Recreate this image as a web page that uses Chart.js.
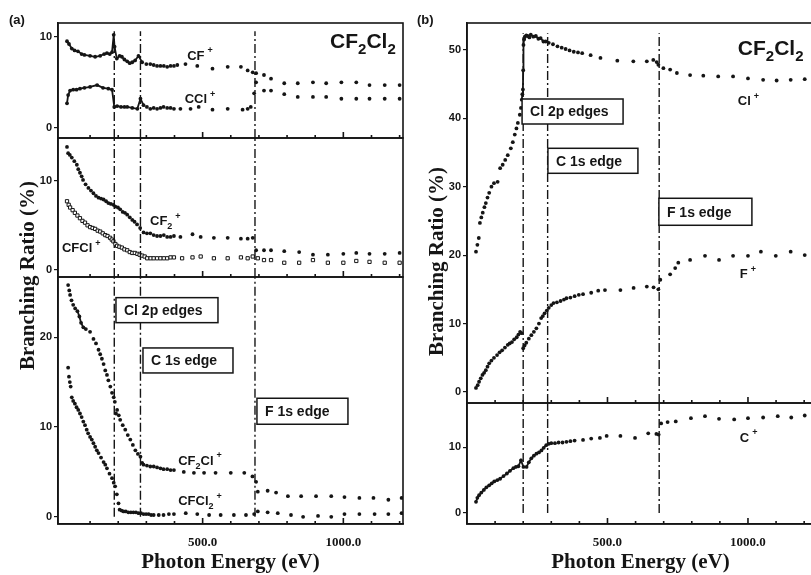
<!DOCTYPE html>
<html>
<head>
<meta charset="utf-8">
<script src="https://cdn.jsdelivr.net/npm/chart.js@4.4.0/dist/chart.umd.min.js"></script>
<style>
  html, body { margin: 0; padding: 0; background: #fff; width: 811px; height: 575px; overflow: hidden; }
  #wrapA { position: absolute; left: 0; top: 0; width: 410px; height: 575px; }
  #wrapB { position: absolute; left: 400px; top: 0; width: 430px; height: 575px; }
</style>
</head>
<body>
<div id="wrapA"><canvas id="chartA" width="410" height="575"></canvas></div>
<div id="wrapB"><canvas id="chartB" width="430" height="575"></canvas></div>
<script>
// ---- panel (a): photon energy (eV) and branching ratio (%) per ion ----
const cfPlusE = [18, 25, 35, 45, 57, 70, 80, 100, 118, 136, 150, 160, 170, 178, 184, 187, 195, 205, 213, 222, 232, 241, 250, 260, 272, 285, 300, 314, 326, 338, 350, 362, 374, 386, 398, 410, 439, 481, 535, 589, 636, 660, 678, 690, 718, 743, 790, 838, 892, 939, 993, 1046, 1093, 1147, 1200];
const cfPlusV = [9.5, 9.2, 8.7, 8.5, 8.4, 8.1, 8.0, 7.9, 7.8, 7.9, 8.1, 8.2, 8.1, 8.3, 10.2, 8.9, 7.6, 7.9, 7.8, 7.5, 7.3, 7.1, 7.2, 7.4, 7.9, 7.2, 7.0, 7.0, 6.9, 6.8, 6.8, 6.8, 6.7, 6.8, 6.8, 6.9, 7.0, 6.8, 6.5, 6.7, 6.7, 6.3, 6.1, 6.0, 5.8, 5.4, 4.9, 4.9, 5.0, 4.9, 5.0, 5.0, 4.7, 4.7, 4.7];

const cclPlusE = [18, 22, 29, 40, 52, 64, 80, 100, 125, 146, 165, 178, 186, 196, 210, 222, 232, 250, 268, 279, 290, 302, 314, 326, 338, 350, 361, 374, 386, 398, 421, 457, 486, 535, 589, 642, 660, 671, 683, 690, 718, 743, 790, 838, 892, 939, 993, 1046, 1093, 1147, 1200];
const cclPlusV = [2.7, 3.6, 4.1, 4.2, 4.2, 4.3, 4.4, 4.5, 4.7, 4.4, 4.3, 4.2, 2.3, 2.4, 2.3, 2.3, 2.3, 2.2, 2.1, 3.2, 2.5, 2.3, 2.1, 2.2, 2.1, 2.2, 2.3, 2.2, 2.2, 2.1, 2.1, 2.1, 2.3, 2.0, 2.1, 2.0, 2.1, 2.3, 3.8, 5.0, 4.1, 4.1, 3.7, 3.4, 3.4, 3.4, 3.2, 3.2, 3.2, 3.2, 3.2];

const cf2PlusE = [18, 22, 28, 35, 44, 53, 58, 64, 70, 75, 84, 94, 103, 112, 121, 130, 139, 148, 157, 165, 174, 183, 190, 199, 207, 216, 224, 232, 241, 250, 258, 267, 278, 290, 302, 314, 326, 338, 350, 362, 374, 386, 398, 421, 464, 493, 540, 589, 636, 660, 678, 690, 718, 743, 790, 843, 892, 945, 1000, 1046, 1093, 1147, 1200];
const cf2PlusV = [13.8, 13.1, 12.9, 12.6, 12.2, 11.8, 11.3, 10.9, 10.5, 10.1, 9.6, 9.2, 8.9, 8.6, 8.3, 8.1, 8.0, 7.9, 7.7, 7.5, 7.4, 7.3, 7.1, 7.0, 6.8, 6.5, 6.4, 6.2, 5.9, 5.6, 5.4, 5.1, 4.7, 4.2, 4.1, 4.1, 3.9, 3.8, 3.8, 3.9, 3.7, 3.7, 3.8, 3.7, 4.0, 3.7, 3.6, 3.6, 3.5, 3.5, 3.6, 2.2, 2.2, 2.2, 2.1, 2.0, 1.7, 1.7, 1.8, 1.9, 1.8, 1.8, 1.9];

const cfclPlusE = [18, 24, 29, 38, 46, 55, 64, 73, 82, 91, 100, 109, 118, 127, 136, 145, 154, 162, 171, 177, 183, 190, 196, 204, 213, 222, 232, 241, 250, 259, 268, 276, 285, 294, 303, 315, 326, 338, 350, 362, 374, 386, 398, 427, 464, 493, 540, 589, 636, 660, 678, 696, 718, 743, 790, 843, 892, 945, 1000, 1046, 1093, 1147, 1200];
const cfclPlusV = [7.7, 7.3, 7.0, 6.7, 6.4, 6.1, 5.8, 5.5, 5.3, 5.0, 4.8, 4.7, 4.6, 4.4, 4.3, 4.1, 3.9, 3.8, 3.6, 3.4, 3.2, 2.9, 2.7, 2.6, 2.5, 2.3, 2.2, 2.0, 1.9, 1.9, 1.8, 1.7, 1.6, 1.5, 1.3, 1.3, 1.3, 1.3, 1.3, 1.3, 1.3, 1.4, 1.4, 1.3, 1.4, 1.5, 1.3, 1.3, 1.4, 1.3, 1.5, 1.3, 1.1, 1.1, 0.8, 0.8, 1.1, 0.8, 0.8, 1.0, 0.9, 0.8, 0.8];

const cf2clPlusE = [22, 26, 29, 34, 40, 47, 55, 62, 68, 76, 85, 100, 112, 121, 130, 136, 142, 148, 154, 160, 165, 172, 178, 184, 188, 192, 196, 202, 207, 216, 225, 234, 243, 252, 261, 270, 279, 285, 290, 302, 314, 326, 338, 350, 361, 374, 386, 398, 433, 469, 505, 546, 600, 648, 677, 690, 696, 731, 761, 803, 850, 903, 957, 1004, 1057, 1107, 1160, 1207];
const cf2clPlusV = [25.8, 25.2, 24.7, 24.1, 23.6, 23.2, 22.9, 22.3, 21.6, 21.1, 20.9, 20.6, 19.8, 19.3, 18.6, 18.1, 17.6, 17.0, 16.3, 15.8, 15.2, 14.5, 13.8, 13.3, 12.8, 11.5, 11.9, 11.3, 10.8, 10.2, 9.7, 9.1, 8.6, 8.0, 7.4, 7.0, 6.7, 6.0, 5.8, 5.7, 5.6, 5.6, 5.5, 5.4, 5.3, 5.3, 5.2, 5.2, 5.0, 4.9, 4.9, 4.9, 4.9, 4.9, 4.5, 3.9, 2.8, 2.9, 2.7, 2.3, 2.3, 2.3, 2.3, 2.2, 2.1, 2.1, 1.9, 2.1];

const cfcl2PlusE = [22, 25, 28, 31, 35, 40, 46, 52, 58, 64, 70, 76, 82, 88, 93, 100, 106, 112, 118, 124, 130, 139, 148, 154, 160, 169, 178, 184, 189, 195, 201, 205, 212, 219, 227, 236, 245, 254, 263, 272, 281, 290, 299, 308, 317, 326, 344, 361, 380, 398, 440, 481, 523, 564, 611, 654, 683, 696, 731, 767, 814, 857, 910, 957, 1004, 1057, 1111, 1160, 1207];
const cfcl2PlusV = [16.6, 15.6, 15.0, 14.5, 13.3, 12.9, 12.6, 12.2, 11.9, 11.5, 11.1, 10.6, 10.2, 9.7, 9.3, 8.9, 8.6, 8.2, 7.8, 7.4, 7.1, 6.6, 6.1, 5.8, 5.4, 4.8, 4.3, 3.8, 3.4, 2.5, 1.5, 0.8, 0.7, 0.6, 0.6, 0.5, 0.5, 0.5, 0.5, 0.4, 0.4, 0.3, 0.3, 0.3, 0.2, 0.2, 0.2, 0.2, 0.3, 0.3, 0.4, 0.3, 0.2, 0.2, 0.2, 0.2, 0.3, 0.6, 0.5, 0.4, 0.2, 0.0, 0.1, 0.0, 0.3, 0.3, 0.3, 0.3, 0.4];

// ---- panel (b) ----
const clPlusE = [32, 37, 42, 46, 51, 56, 62, 67, 73, 79, 87, 96, 109, 118, 127, 136, 145, 156, 163, 170, 176, 181, 188, 192, 195, 197, 199, 200, 201, 203, 206, 211, 216, 222, 227, 236, 245, 254, 262, 272, 280, 291, 306, 322, 337, 351, 365, 380, 395, 410, 440, 475, 535, 592, 640, 663, 675, 681, 699, 723, 747, 794, 841, 894, 947, 1000, 1054, 1102, 1152, 1202];
const clPlusV = [20.5, 21.5, 22.5, 24.7, 25.5, 26.2, 27.0, 27.6, 28.4, 29.1, 30.0, 30.5, 30.7, 32.7, 33.2, 33.9, 34.6, 35.6, 36.5, 37.6, 38.5, 39.3, 40.5, 41.5, 42.7, 43.5, 44.2, 47.0, 50.7, 51.5, 51.9, 52.1, 52.0, 51.8, 52.2, 51.9, 52.0, 51.6, 51.7, 51.2, 51.2, 51.0, 50.8, 50.5, 50.3, 50.1, 49.9, 49.7, 49.6, 49.5, 49.2, 48.8, 48.4, 48.3, 48.3, 48.5, 48.2, 47.8, 47.3, 47.1, 46.6, 46.3, 46.2, 46.1, 46.1, 45.8, 45.6, 45.5, 45.6, 45.7];

const fPlusE = [32, 38, 43, 49, 55, 61, 67, 73, 79, 87, 96, 107, 116, 125, 135, 145, 152, 160, 168, 177, 183, 189, 194, 200, 205, 211, 220, 229, 238, 247, 256, 264, 270, 276, 284, 291, 300, 308, 320, 333, 345, 354, 368, 383, 398, 413, 442, 467, 491, 546, 593, 640, 664, 681, 688, 723, 741, 752, 794, 847, 897, 947, 1000, 1046, 1099, 1152, 1202];
const fPlusV = [0.6, 1.0, 1.5, 2.0, 2.5, 2.8, 3.2, 3.7, 4.2, 4.6, 5.0, 5.4, 5.8, 6.1, 6.5, 6.9, 7.1, 7.3, 7.7, 8.0, 8.4, 8.8, 8.6, 6.4, 6.8, 7.2, 7.8, 8.3, 8.8, 9.3, 10.0, 10.8, 11.1, 11.5, 11.9, 12.3, 12.7, 13.0, 13.1, 13.3, 13.5, 13.7, 13.8, 14.0, 14.2, 14.3, 14.5, 14.8, 14.9, 14.9, 15.2, 15.4, 15.3, 15.0, 16.4, 17.2, 18.1, 18.9, 19.3, 19.9, 19.3, 19.9, 19.9, 20.5, 19.9, 20.5, 20.0];

const cPlusE = [32, 37, 43, 51, 60, 69, 79, 88, 97, 108, 118, 130, 142, 153, 165, 174, 183, 192, 201, 212, 220, 229, 238, 247, 256, 265, 273, 282, 291, 300, 313, 326, 340, 354, 368, 383, 413, 442, 473, 497, 546, 598, 645, 674, 682, 691, 714, 743, 797, 847, 897, 951, 1000, 1054, 1106, 1154, 1202];
const cPlusV = [1.7, 2.3, 2.7, 3.1, 3.5, 3.9, 4.2, 4.5, 4.8, 5.0, 5.2, 5.6, 6.0, 6.4, 6.8, 7.0, 7.1, 8.0, 7.0, 7.0, 7.7, 8.3, 8.7, 9.0, 9.2, 9.5, 9.9, 10.3, 10.5, 10.6, 10.6, 10.7, 10.7, 10.8, 10.9, 11.0, 11.1, 11.3, 11.4, 11.7, 11.7, 11.4, 12.1, 12.0, 11.9, 13.6, 13.8, 13.9, 14.4, 14.7, 14.3, 14.2, 14.4, 14.5, 14.7, 14.5, 14.8];

// absorption edges (eV) as drawn in each panel
const edgesA = [186, 279, 686];
const edgesB = [200, 287, 684];

// tick values
const xLabelTicks = [500, 1000];
const yTicksSmall = [0, 10];
const yTicksBotA = [0, 10, 20];
const yTicksTopB = [0, 10, 20, 30, 40, 50];

const ink = '#151515';
const sans = '"Liberation Sans", Arial, sans-serif';
const serif = '"Liberation Serif", "Times New Roman", serif';

function pts(es, vs) {
  return es.map((e, i) => ({ x: e, y: vs[i] }));
}

// dotted series; stretches listed in joins are drawn as a solid trace
function series(es, vs, axis, joins, extra) {
  return Object.assign({
    data: pts(es, vs),
    yAxisID: axis,
    showLine: joins.length > 0,
    borderColor: ink,
    borderWidth: 1.8,
    pointRadius: 1.9,
    pointBackgroundColor: ink,
    pointBorderWidth: 0,
    segment: {
      borderColor: c => joins.some(r => c.p0.parsed.x >= r[0] && c.p1.parsed.x <= r[1]) ? ink : 'transparent'
    }
  }, extra || {});
}

function edgeLines(edges, axis, lo, hi) {
  return edges.map(e => ({
    data: [{ x: e, y: lo }, { x: e, y: hi }],
    yAxisID: axis,
    showLine: true,
    borderColor: ink,
    borderWidth: 1.4,
    borderDash: [9, 3, 2, 3],
    pointRadius: 0
  }));
}

function yScale(min, max, ticks, weight, order) {
  return {
    type: 'linear', position: 'left', stack: 'panel', stackWeight: weight, weight: order,
    min: min, max: max,
    afterBuildTicks: s => { s.ticks = ticks.map(v => ({ value: v })); },
    afterFit: s => { s.width = 30; },
    border: { display: true, color: ink, width: 1.6 },
    grid: { display: true, drawOnChartArea: false, tickLength: 4, color: ink, lineWidth: 1.2 },
    ticks: { color: ink, padding: 2, font: { family: sans, size: 11, weight: 'bold' } }
  };
}

function xScale(min, max) {
  return {
    type: 'linear', position: 'bottom', min: min, max: max,
    afterBuildTicks: s => { s.ticks = xLabelTicks.map(v => ({ value: v })); },
    afterFit: s => { s.height = 51; },
    border: { display: true, color: ink, width: 1.6 },
    grid: { display: false },
    ticks: { color: ink, padding: 3, font: { family: serif, size: 13, weight: 'bold' }, callback: v => v.toFixed(1) }
  };
}

function drawRich(ctx, parts, x, y, size) {
  let cx = x;
  parts.forEach(p => {
    const mode = p[1] || '';
    const fs = mode ? Math.round(size * 0.72) : size;
    if (mode === 'sup') cx += 3;
    ctx.font = 'bold ' + fs + 'px ' + sans;
    const dy = mode === 'sub' ? size * 0.3 : mode === 'sup' ? -size * 0.5 : 0;
    ctx.fillText(p[0], cx, y + dy);
    cx += ctx.measureText(p[0]).width;
  });
}

const decorPlugin = {
  id: 'decor',
  afterDraw(chart, args, o) {
    const ctx = chart.ctx, area = chart.chartArea, xs = chart.scales.x;
    ctx.save();
    ctx.strokeStyle = ink;
    ctx.fillStyle = ink;

    // frame around each sub panel with small x ticks on its lower edge
    ctx.lineWidth = 1.6;
    o.panels.forEach(id => {
      const s = chart.scales[id];
      ctx.strokeRect(area.left, s.top, area.right - area.left, s.bottom - s.top);
      ctx.beginPath();
      for (let e = 100; e < xs.max; e += 100) {
        const px = xs.getPixelForValue(e);
        const len = e % 500 === 0 ? 6 : 3;
        ctx.moveTo(px, s.bottom);
        ctx.lineTo(px, s.bottom - len);
      }
      ctx.stroke();
    });

    // boxed edge names
    ctx.textAlign = 'left';
    ctx.textBaseline = 'middle';
    o.boxes.forEach(b => {
      const x = xs.getPixelForValue(b.x);
      const y = chart.scales[b.axis].getPixelForValue(b.y);
      ctx.fillStyle = '#fff';
      ctx.fillRect(x, y, b.w, b.h);
      ctx.lineWidth = 1.5;
      ctx.strokeRect(x, y, b.w, b.h);
      ctx.fillStyle = ink;
      ctx.font = 'bold 14px ' + sans;
      ctx.fillText(b.text, x + 8, y + b.h / 2 + 1);
    });

    // ion labels
    ctx.textBaseline = 'alphabetic';
    o.labels.forEach(l => {
      drawRich(ctx, l.parts, xs.getPixelForValue(l.x), chart.scales[l.axis].getPixelForValue(l.y), l.size);
    });

    // panel letter
    ctx.font = 'bold 13px ' + sans;
    ctx.fillText(o.letter, o.letterX, 24);

    // axis titles
    ctx.font = 'bold 21px ' + serif;
    ctx.textAlign = 'center';
    ctx.fillText('Photon Energy (eV)', (area.left + area.right) / 2, area.bottom + 44);
    ctx.save();
    ctx.translate(area.left - 24, (area.top + area.bottom) / 2 + o.yTitleShift);
    ctx.rotate(-Math.PI / 2);
    ctx.fillText('Branching Ratio (%)', 0, 0);
    ctx.restore();

    ctx.restore();
  }
};

const cf2cl2 = [['CF'], ['2', 'sub'], ['Cl'], ['2', 'sub']];

const labelsA = [
  { parts: cf2cl2, axis: 'yTop', x: 953, y: 8.8, size: 21 },
  { parts: [['CF'], ['+', 'sup']], axis: 'yTop', x: 445, y: 7.5, size: 13 },
  { parts: [['CCl'], ['+', 'sup']], axis: 'yTop', x: 436, y: 2.7, size: 13 },
  { parts: [['CF'], ['2', 'sub'], ['+', 'sup']], axis: 'yMid', x: 313, y: 5.0, size: 13 },
  { parts: [['CFCl'], ['+', 'sup']], axis: 'yMid', x: 0, y: 2.0, size: 13 },
  { parts: [['CF'], ['2', 'sub'], ['Cl'], ['+', 'sup']], axis: 'yBot', x: 413, y: 5.8, size: 13 },
  { parts: [['CFCl'], ['2', 'sub'], ['+', 'sup']], axis: 'yBot', x: 413, y: 1.3, size: 13 }
];
const boxesA = [
  { text: 'Cl 2p edges', axis: 'yBot', x: 192, y: 24.4, w: 102, h: 25 },
  { text: 'C 1s edge', axis: 'yBot', x: 288, y: 18.8, w: 90, h: 25 },
  { text: 'F 1s edge', axis: 'yBot', x: 693, y: 13.2, w: 91, h: 26 }
];

const labelsB = [
  { parts: cf2cl2, axis: 'yTop', x: 964, y: 49.2, size: 21 },
  { parts: [['Cl'], ['+', 'sup']], axis: 'yTop', x: 964, y: 41.9, size: 13 },
  { parts: [['F'], ['+', 'sup']], axis: 'yTop', x: 971, y: 16.6, size: 13 },
  { parts: [['C'], ['+', 'sup']], axis: 'yBot', x: 971, y: 10.8, size: 13 }
];
const boxesB = [
  { text: 'Cl 2p edges', axis: 'yTop', x: 196, y: 42.8, w: 101, h: 25 },
  { text: 'C 1s edge', axis: 'yTop', x: 288, y: 35.6, w: 90, h: 25 },
  { text: 'F 1s edge', axis: 'yTop', x: 683, y: 28.3, w: 93, h: 27 }
];

const baseOptions = {
  responsive: false,
  animation: false,
  events: [],
  plugins: { legend: { display: false }, tooltip: { enabled: false } }
};

// --- Panel (a): three stacked sub plots ---
new Chart(document.getElementById('chartA'), {
  type: 'scatter',
  data: {
    datasets: [
      ...edgeLines(edgesA, 'yTop', -1.1, 10.6),
      ...edgeLines(edgesA, 'yMid', -0.8, 14.8),
      ...edgeLines(edgesA, 'yBot', 0, 26.7),
      series(cfPlusE, cfPlusV, 'yTop', [[0, 295]]),
      series(cclPlusE, cclPlusV, 'yTop', [[0, 292]]),
      series(cf2PlusE, cf2PlusV, 'yMid', []),
      series(cfclPlusE, cfclPlusV, 'yMid', [], { pointStyle: 'rect', pointRadius: 2.3, pointBackgroundColor: '#fff', pointBorderColor: ink, pointBorderWidth: 1 }),
      series(cf2clPlusE, cf2clPlusV, 'yBot', [[50, 90]]),
      series(cfcl2PlusE, cfcl2PlusV, 'yBot', [])
    ]
  },
  options: Object.assign({}, baseOptions, {
    layout: { padding: { left: 28, right: 7, top: 23, bottom: 0 } },
    scales: {
      x: xScale(-14, 1212),
      yBot: yScale(-0.8, 26.7, yTicksBotA, 247, 1),
      yMid: yScale(-0.8, 14.8, yTicksSmall, 139, 2),
      yTop: yScale(-1.1, 11.5, yTicksSmall, 115, 3)
    },
    plugins: Object.assign({}, baseOptions.plugins, {
      decor: { panels: ['yTop', 'yMid', 'yBot'], boxes: boxesA, labels: labelsA, letter: '(a)', letterX: 9, yTitleShift: 2 }
    })
  }),
  plugins: [decorPlugin]
});

// --- Panel (b): two stacked sub plots ---
new Chart(document.getElementById('chartB'), {
  type: 'scatter',
  data: {
    datasets: [
      ...edgeLines(edgesB, 'yTop', -1.6, 52.4),
      ...edgeLines(edgesB, 'yBot', 0, 16.7),
      series(clPlusE, clPlusV, 'yTop', [[195, 292]]),
      series(fPlusE, fPlusV, 'yTop', []),
      series(cPlusE, cPlusV, 'yBot', [[0, 300]])
    ]
  },
  options: Object.assign({}, baseOptions, {
    layout: { padding: { left: 37, right: 16, top: 23, bottom: 0 } },
    scales: {
      x: xScale(0, 1235),
      yBot: yScale(-1.67, 16.7, yTicksSmall, 121, 1),
      yTop: yScale(-1.6, 53.9, yTicksTopB, 380, 2)
    },
    plugins: Object.assign({}, baseOptions.plugins, {
      decor: { panels: ['yTop', 'yBot'], boxes: boxesB, labels: labelsB, letter: '(b)', letterX: 17, yTitleShift: -12 }
    })
  }),
  plugins: [decorPlugin]
});
</script>
</body>
</html>
